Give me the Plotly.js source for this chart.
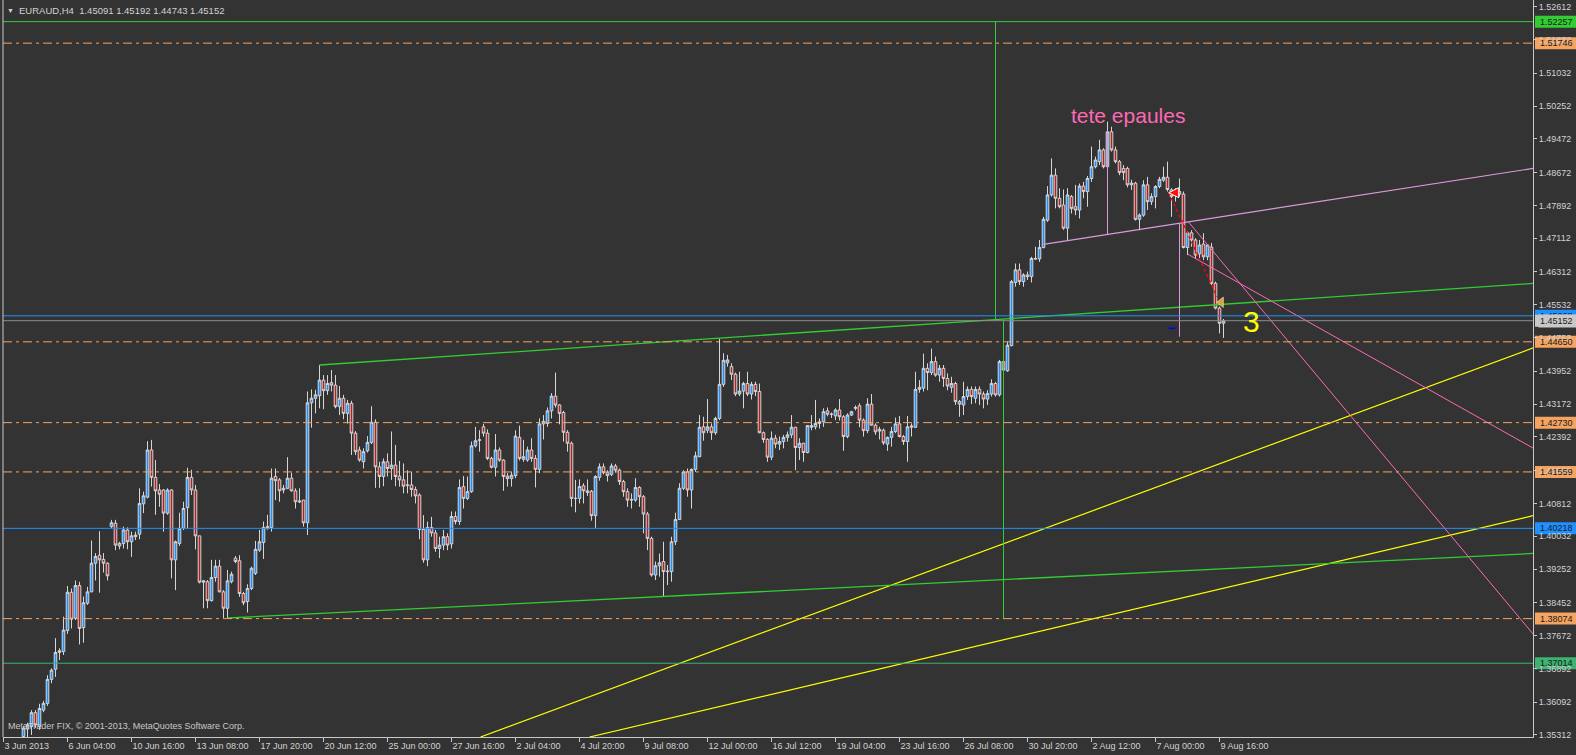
<!DOCTYPE html>
<html>
<head>
<meta charset="utf-8">
<script src="https://cdn.plot.ly/plotly-3.0.1.min.js"></script>
<style>
html,body{margin:0;padding:0;background:#333333;overflow:hidden}
#chart{width:1576px;height:755px}
</style>
</head>
<body>
<div id="chart"></div>
<script>
// ---------------- DATA (EURAUD, H4) ----------------
const firstBar = 5; // index of first visible bar (bar 0 = 3 Jun 2013)
const barOpen = [
1.3527,1.3545,1.3551,1.3584,1.3551,1.3590,1.3606,1.3663,1.3687,1.3727,
1.3729,1.3779,1.3870,1.3808,1.3886,1.3786,1.3844,1.3871,1.3939,1.3958,
1.3948,1.3939,1.4026,1.4034,1.3986,1.3986,1.4018,1.3990,1.4002,1.4008,
1.4080,1.4096,1.4208,1.4143,1.4113,1.4113,1.4058,1.4113,1.3947,1.3986,
1.4022,1.4071,1.4143,1.4113,1.4004,1.3894,1.3895,1.3850,1.3905,1.3932,
1.3871,1.3832,1.3895,1.3951,1.3945,1.3867,1.3848,1.3879,1.3915,1.3970,
1.3988,1.4021,1.4024,1.4145,1.4137,1.4113,1.4117,1.4141,1.4111,1.4087,
1.4089,1.4035,1.4320,1.4331,1.4337,1.4374,1.4349,1.4368,1.4362,1.4311,
1.4331,1.4295,1.4319,1.4248,1.4208,1.4180,1.4206,1.4226,1.4274,1.4168,
1.4145,1.4180,1.4164,1.4172,1.4146,1.4137,1.4125,1.4125,1.4114,1.4101,
1.4019,1.3947,1.4024,1.4011,1.3974,1.3982,1.4002,1.3985,1.4050,1.4038,
1.4121,1.4093,1.4109,1.4218,1.4231,1.4263,1.4248,1.4188,1.4167,1.4208,
1.4184,1.4146,1.4140,1.4147,1.4238,1.4186,1.4184,1.4208,1.4188,1.4162,
1.4270,1.4271,1.4301,1.4336,1.4315,1.4297,1.4250,1.4224,1.4093,1.4093,
1.4123,1.4111,1.4110,1.4052,1.4143,1.4168,1.4154,1.4150,1.4170,1.4160,
1.4133,1.4109,1.4089,1.4089,1.4119,1.4097,1.4056,1.3998,1.3911,1.3933,
1.3943,1.3919,1.3919,1.3990,1.4043,1.4117,1.4156,1.4113,1.4162,1.4192,
1.4263,1.4255,1.4263,1.4249,1.4283,1.4364,1.4415,1.4406,1.4388,1.4341,
1.4348,1.4366,1.4341,1.4364,1.4347,1.4249,1.4233,1.4191,1.4236,1.4222,
1.4228,1.4238,1.4244,1.4262,1.4214,1.4224,1.4202,1.4262,1.4263,1.4271,
1.4275,1.4301,1.4293,1.4289,1.4303,1.4287,1.4240,1.4291,1.4307,1.4313,
1.4279,1.4254,1.4317,1.4267,1.4253,1.4255,1.4222,1.4238,1.4252,1.4270,
1.4240,1.4228,1.4262,1.4262,1.4352,1.4355,1.4402,1.4392,1.4418,1.4386,
1.4402,1.4378,1.4357,1.4366,1.4323,1.4315,1.4335,1.4352,1.4331,1.4352,
1.4341,1.4329,1.4341,1.4366,1.4339,1.4418,1.4396,1.4456,1.4606,1.4636,
1.4608,1.4624,1.4620,1.4663,1.4662,1.4689,1.4754,1.4814,1.4861,1.4806,
1.4790,1.4735,1.4810,1.4786,1.4778,1.4835,1.4822,1.4853,1.4881,1.4893,
1.4921,1.4881,1.4964,1.4921,1.4893,1.4877,1.4877,1.4838,1.4842,1.4756,
1.4766,1.4838,1.4798,1.4810,1.4834,1.4849,1.4856,1.4826,1.4820,1.4822,
1.4816,1.4689,1.4724,1.4707,1.4674,1.4697,1.4667,1.4690,1.4604,1.4545,
1.45091];
const barHigh = [
1.3552,1.3560,1.3590,1.3590,1.3605,1.3612,1.3673,1.3689,1.3761,1.3737,
1.3812,1.3885,1.3879,1.3898,1.3895,1.3860,1.3883,1.3993,1.3963,1.4015,
1.3963,1.3941,1.4042,1.4042,1.3990,1.4026,1.4024,1.4014,1.4014,1.4117,
1.4109,1.4229,1.4232,1.4184,1.4127,1.4115,1.4117,1.4115,1.3993,1.4059,
1.4085,1.4166,1.4161,1.4125,1.4004,1.3899,1.3899,1.3947,1.3947,1.3947,
1.3875,1.3923,1.3919,1.3956,1.3958,1.3871,1.3889,1.3931,1.3992,1.4018,
1.4038,1.4054,1.4164,1.4164,1.4141,1.4125,1.4191,1.4154,1.4117,1.4117,
1.4089,1.4347,1.4352,1.4351,1.4410,1.4386,1.4386,1.4398,1.4386,1.4360,
1.4339,1.4327,1.4325,1.4253,1.4216,1.4212,1.4241,1.4312,1.4281,1.4180,
1.4188,1.4200,1.4252,1.4220,1.4182,1.4176,1.4160,1.4156,1.4121,1.4105,
1.4053,1.4038,1.4049,1.4018,1.4002,1.4018,1.4010,1.4062,1.4062,1.4138,
1.4146,1.4145,1.4228,1.4263,1.4255,1.4270,1.4257,1.4192,1.4246,1.4214,
1.4186,1.4153,1.4156,1.4255,1.4266,1.4232,1.4216,1.4236,1.4196,1.4283,
1.4291,1.4309,1.4343,1.4392,1.4317,1.4301,1.4255,1.4228,1.4137,1.4138,
1.4129,1.4138,1.4113,1.4148,1.4176,1.4176,1.4160,1.4176,1.4175,1.4164,
1.4137,1.4117,1.4105,1.4141,1.4122,1.4101,1.4061,1.4002,1.3943,1.3962,
1.3990,1.3935,1.4002,1.4059,1.4129,1.4160,1.4164,1.4164,1.4204,1.4291,
1.4287,1.4329,1.4271,1.4287,1.4473,1.4438,1.4434,1.4414,1.4392,1.4394,
1.4370,1.4394,1.4370,1.4370,1.4366,1.4252,1.4236,1.4252,1.4244,1.4240,
1.4244,1.4252,1.4291,1.4263,1.4236,1.4225,1.4267,1.4291,1.4327,1.4283,
1.4307,1.4309,1.4297,1.4307,1.4329,1.4291,1.4295,1.4301,1.4314,1.4319,
1.4283,1.4331,1.4341,1.4271,1.4263,1.4259,1.4240,1.4263,1.4285,1.4289,
1.4244,1.4289,1.4271,1.4394,1.4374,1.4437,1.4414,1.4449,1.4430,1.4410,
1.4410,1.4390,1.4382,1.4370,1.4327,1.4370,1.4359,1.4359,1.4359,1.4359,
1.4347,1.4350,1.4376,1.4370,1.4422,1.4422,1.4465,1.4612,1.4651,1.4651,
1.4628,1.4632,1.4667,1.4691,1.4707,1.4762,1.4835,1.4901,1.4877,1.4830,
1.4827,1.4830,1.4814,1.4838,1.4841,1.4845,1.4859,1.4929,1.4905,1.4945,
1.4925,1.4988,1.4976,1.4929,1.4897,1.4885,1.4881,1.4850,1.4845,1.4770,
1.4849,1.4857,1.4818,1.4837,1.4857,1.4881,1.4893,1.4830,1.4830,1.4853,
1.4822,1.4727,1.4730,1.4711,1.4707,1.4723,1.4697,1.4700,1.4608,1.4549,
1.45192];
const barLow = [
1.3500,1.3520,1.3531,1.3548,1.3543,1.3585,1.3600,1.3654,1.3669,1.3709,
1.3721,1.3771,1.3784,1.3804,1.3746,1.3750,1.3840,1.3870,1.3898,1.3869,
1.3917,1.3898,1.4022,1.3970,1.3972,1.3974,1.3972,1.3954,1.3994,1.3996,
1.4058,1.4093,1.4121,1.4054,1.4073,1.4014,1.4054,1.3903,1.3875,1.3980,
1.4018,1.4022,1.4101,1.3972,1.3891,1.3832,1.3832,1.3848,1.3895,1.3870,
1.3809,1.3809,1.3891,1.3939,1.3859,1.3839,1.3822,1.3875,1.3911,1.3966,
1.3949,1.4019,1.4014,1.4089,1.4085,1.4105,1.4115,1.4109,1.4069,1.4082,
1.4026,1.4006,1.4261,1.4295,1.4307,1.4305,1.4339,1.4347,1.4307,1.4291,
1.4281,1.4271,1.4196,1.4196,1.4180,1.4164,1.4202,1.4222,1.4118,1.4118,
1.4122,1.4145,1.4137,1.4122,1.4121,1.4105,1.4105,1.4097,1.4081,1.3996,
1.3940,1.3932,1.4002,1.3966,1.3951,1.3970,1.3970,1.3974,1.4031,1.4030,
1.4069,1.4089,1.4106,1.4214,1.4204,1.4240,1.4184,1.4164,1.4145,1.4180,
1.4111,1.4121,1.4121,1.4141,1.4183,1.4180,1.4180,1.4180,1.4119,1.4153,
1.4233,1.4263,1.4283,1.4309,1.4269,1.4228,1.4204,1.4073,1.4060,1.4081,
1.4081,1.4099,1.4040,1.4023,1.4135,1.4150,1.4133,1.4146,1.4154,1.4125,
1.4097,1.4073,1.4069,1.4085,1.4073,1.4010,1.3970,1.3907,1.3899,1.3907,
1.3859,1.3887,1.3895,1.3982,1.4042,1.4113,1.4097,1.4069,1.4156,1.4191,
1.4230,1.4248,1.4232,1.4244,1.4279,1.4358,1.4406,1.4374,1.4336,1.4336,
1.4307,1.4336,1.4328,1.4336,1.4248,1.4225,1.4180,1.4184,1.4212,1.4208,
1.4212,1.4228,1.4236,1.4160,1.4184,1.4180,1.4200,1.4255,1.4257,1.4259,
1.4263,1.4288,1.4284,1.4279,1.4278,1.4206,1.4236,1.4289,1.4302,1.4262,
1.4240,1.4248,1.4266,1.4244,1.4233,1.4220,1.4206,1.4216,1.4248,1.4238,
1.4220,1.4180,1.4240,1.4260,1.4344,1.4347,1.4350,1.4386,1.4382,1.4370,
1.4358,1.4350,1.4344,1.4315,1.4287,1.4291,1.4327,1.4317,1.4319,1.4315,
1.4307,1.4315,1.4335,1.4335,1.4335,1.4394,1.4394,1.4454,1.4596,1.4600,
1.4596,1.4612,1.4606,1.4660,1.4655,1.4687,1.4750,1.4810,1.4782,1.4782,
1.4731,1.4707,1.4770,1.4766,1.4758,1.4806,1.4786,1.4845,1.4877,1.4885,
1.4877,1.4877,1.4917,1.4889,1.4861,1.4849,1.4832,1.4826,1.4753,1.4730,
1.4762,1.4778,1.4790,1.4782,1.4830,1.4845,1.4822,1.4762,1.4798,1.4810,
1.4687,1.4671,1.4691,1.4663,1.4663,1.4659,1.4659,1.4600,1.4542,1.4485,
1.44743];
const barClose = [
1.3547,1.3555,1.3584,1.3555,1.3594,1.3606,1.3663,1.3685,1.3727,1.3731,
1.3780,1.3870,1.3806,1.3886,1.3784,1.3845,1.3871,1.3939,1.3955,1.3947,
1.3939,1.3909,1.4035,1.3982,1.3980,1.4018,1.3990,1.4004,1.4006,1.4081,
1.4099,1.4208,1.4143,1.4111,1.4103,1.4058,1.4113,1.3947,1.3990,1.4022,
1.4069,1.4143,1.4113,1.4004,1.3894,1.3897,1.3850,1.3905,1.3932,1.3871,
1.3832,1.3897,1.3913,1.3943,1.3867,1.3845,1.3879,1.3927,1.3972,1.3990,
1.4024,1.4026,1.4141,1.4135,1.4111,1.4117,1.4141,1.4111,1.4085,1.4085,
1.4035,1.4320,1.4331,1.4339,1.4374,1.4349,1.4366,1.4362,1.4311,1.4331,
1.4295,1.4319,1.4248,1.4204,1.4184,1.4204,1.4226,1.4274,1.4168,1.4145,
1.4180,1.4164,1.4172,1.4145,1.4137,1.4122,1.4124,1.4114,1.4099,1.4019,
1.3947,1.4024,1.4011,1.3974,1.3982,1.4002,1.3982,1.4050,1.4038,1.4119,
1.4093,1.4109,1.4218,1.4230,1.4232,1.4248,1.4188,1.4167,1.4208,1.4184,
1.4145,1.4140,1.4148,1.4241,1.4188,1.4192,1.4208,1.4188,1.4162,1.4270,
1.4276,1.4301,1.4336,1.4315,1.4295,1.4250,1.4224,1.4093,1.4093,1.4121,
1.4111,1.4107,1.4052,1.4145,1.4168,1.4154,1.4147,1.4170,1.4160,1.4133,
1.4109,1.4089,1.4090,1.4119,1.4097,1.4056,1.3998,1.3911,1.3933,1.3940,
1.3919,1.3920,1.3990,1.4043,1.4117,1.4156,1.4113,1.4162,1.4194,1.4262,
1.4249,1.4263,1.4249,1.4283,1.4364,1.4421,1.4422,1.4388,1.4341,1.4348,
1.4366,1.4341,1.4364,1.4347,1.4249,1.4233,1.4191,1.4236,1.4222,1.4228,
1.4238,1.4244,1.4262,1.4214,1.4224,1.4202,1.4266,1.4266,1.4271,1.4275,
1.4299,1.4293,1.4293,1.4303,1.4287,1.4240,1.4291,1.4299,1.4309,1.4279,
1.4254,1.4317,1.4267,1.4251,1.4257,1.4225,1.4238,1.4252,1.4270,1.4240,
1.4228,1.4263,1.4265,1.4352,1.4357,1.4402,1.4392,1.4418,1.4386,1.4402,
1.4378,1.4360,1.4366,1.4323,1.4317,1.4335,1.4352,1.4335,1.4352,1.4341,
1.4329,1.4342,1.4366,1.4339,1.4418,1.4398,1.4457,1.4608,1.4636,1.4608,
1.4624,1.4620,1.4663,1.4662,1.4689,1.4756,1.4814,1.4861,1.4806,1.4786,
1.4735,1.4814,1.4782,1.4778,1.4835,1.4822,1.4853,1.4881,1.4897,1.4921,
1.4881,1.4964,1.4921,1.4893,1.4867,1.4867,1.4838,1.4842,1.4756,1.4766,
1.4838,1.4798,1.4810,1.4834,1.4851,1.4856,1.4827,1.4810,1.4822,1.4816,
1.4689,1.4724,1.4707,1.4671,1.4695,1.4667,1.4695,1.4604,1.4545,1.4509,
1.45152];

// time axis labels (every 16 bars)
const timeTickBars = [0,16,32,48,64,80,96,112,128,144,160,176,192,208,224,240,256,272,288,304];
const timeTickText = ['3 Jun 2013','6 Jun 04:00','10 Jun 16:00','13 Jun 08:00','17 Jun 20:00','20 Jun 12:00',
  '25 Jun 00:00','27 Jun 16:00','2 Jul 04:00','4 Jul 20:00','9 Jul 08:00','12 Jul 00:00','16 Jul 12:00',
  '19 Jul 04:00','23 Jul 16:00','26 Jul 08:00','30 Jul 20:00','2 Aug 12:00','7 Aug 00:00','9 Aug 16:00'];
// price axis labels
const priceTicks = [1.52612,1.51832,1.51032,1.50252,1.49472,1.48672,1.47892,1.47112,1.46312,1.45532,
  1.44753,1.43952,1.43172,1.42392,1.41592,1.40812,1.40032,1.39252,1.38452,1.37672,1.36892,1.36092,1.35312];

// horizontal levels
const greenLevels = [1.52257];
const orangeLevels = [1.51746, 1.44650, 1.42730, 1.41559, 1.38074];
const blueLevels = [1.45268, 1.40218];
const seaGreenLevels = [1.37014];
const bidPrice = 1.45152;

// trend lines  (bar index, price)
const upperGreenBars = [79, 382.5],   upperGreenPrices = [1.44099, 1.46038];
const lowerGreenBars = [56, 382.5],   lowerGreenPrices = [1.38088, 1.39623];
const yellowABars = [119.25, 382.5],  yellowAPrices = [1.35261, 1.44508];
const yellowBBars = [146.5, 382.5],   yellowBPrices = [1.35261, 1.40523];
const necklineBars = [260, 382.5],    necklinePrices = [1.46967, 1.48772];
const pinkSteepBars = [296.25, 382.5], pinkSteepPrices = [1.47497, 1.37696];
const pinkSlowBars = [296, 382.5],    pinkSlowPrices = [1.46736, 1.42120];
const vGreenABars = [248, 248],       vGreenAPrices = [1.52257, 1.45160];
const vGreenBBars = [250, 250],       vGreenBPrices = [1.45160, 1.38074];
const headBars = [276, 276],          headPrices = [1.49682, 1.47188];
const shoulderBars = [294, 294],      shoulderPrices = [1.47466, 1.44771];
const arrowBars = [291.3, 303.4],     arrowPrices = [1.48193, 1.45722];
const blueDashBars = [291.25, 293],   blueDashPrices = [1.44971, 1.44971];
const triangleBar = [304.4],          trianglePrice = [1.45589];

const titleText = 'EURAUD,H4\u00a0\u00a01.45091 1.45192 1.44743 1.45152';
const copyrightText = 'MetaTrader FIX, \u00a9 2001-2013, MetaQuotes Software Corp.';
const patternLabel = 'tete epaules';
const patternLabelBar = 281, patternLabelPrice = 1.50039;
const waveLabel = '3';
const waveLabelBar = 312, waveLabelPrice = 1.45144;

// ---------------- LAYOUT CONSTANTS ----------------
const W = 1576, H = 755;
const plotL = 3, plotR = 1533, plotT = 0, plotB = 737;
const yMin = 1.352611, yMax = 1.527712;
const xMin = -0.125, xMax = 382.375;
const FONT = 'Liberation Sans, Arial, sans-serif';
const FG = '#d2d2d2';
const BG = '#333333';
function pxX(px){ return (px - plotL) / (plotR - plotL); }
function pxY(py){ return (plotB - py) / (plotB - plotT); }
function paperOfPrice(p){ return (p - yMin) / (yMax - yMin); }

const barIndex = barOpen.map((_, k) => firstBar + k);

const traces = [];
traces.push({
  type: 'candlestick', x: barIndex, open: barOpen, high: barHigh, low: barLow, close: barClose,
  increasing: { line: { color: '#d6d6d6', width: 1 }, fillcolor: '#1e90ff' },
  decreasing: { line: { color: '#d6d6d6', width: 1 }, fillcolor: '#b22222' },
  whiskerwidth: 0, hoverinfo: 'skip', showlegend: false
});
function lineTrace(xs, ys, color, width, dash){
  return { type: 'scatter', mode: 'lines', x: xs, y: ys, line: { color: color, width: width, dash: dash || 'solid' },
    hoverinfo: 'skip', showlegend: false };
}
traces.push(lineTrace(yellowABars, yellowAPrices, '#ffff00', 1.2));
traces.push(lineTrace(yellowBBars, yellowBPrices, '#ffff00', 1.2));
traces.push(lineTrace(upperGreenBars, upperGreenPrices, '#32cd32', 1.3));
traces.push(lineTrace(lowerGreenBars, lowerGreenPrices, '#32cd32', 1.3));
traces.push(lineTrace(vGreenABars, vGreenAPrices, '#32cd32', 1));
traces.push(lineTrace(vGreenBBars, vGreenBPrices, '#32cd32', 1));
traces.push(lineTrace(necklineBars, necklinePrices, '#dd99dd', 1.2));
traces.push(lineTrace(headBars, headPrices, '#dd99dd', 1));
traces.push(lineTrace(shoulderBars, shoulderPrices, '#dd99dd', 1));
traces.push(lineTrace(pinkSteepBars, pinkSteepPrices, '#ff69b4', 1));
traces.push(lineTrace(pinkSlowBars, pinkSlowPrices, '#ff69b4', 1));
traces.push(lineTrace(arrowBars, arrowPrices, '#ff0000', 1.5, 'dot'));
traces.push(lineTrace(blueDashBars, blueDashPrices, '#0000ff', 1.5));
traces.push({ type: 'scatter', mode: 'markers', x: [arrowBars[0]], y: [arrowPrices[0]],
  marker: { symbol: 'arrow-left', size: 10, color: '#ff1010', line: { color: '#ffffff', width: 1 } },
  hoverinfo: 'skip', showlegend: false });
traces.push({ type: 'scatter', mode: 'markers', x: triangleBar, y: trianglePrice,
  marker: { symbol: 'triangle-left', size: 9, color: '#daa520', line: { color: '#ffffff', width: 0.5 } },
  hoverinfo: 'skip', showlegend: false });

// ---- shapes: level lines, frame, price boxes ----
const shapes = [];
function levelShape(p, color, dash){
  return { type: 'line', xref: 'x', yref: 'y', x0: xMin, x1: xMax, y0: p, y1: p, layer: 'above',
    line: { color: color, width: 1, dash: dash } };
}
const DASHDOT = '9px,4px,3px,4px';
greenLevels.forEach(p => shapes.push(levelShape(p, '#32cd32', 'solid')));
orangeLevels.forEach(p => shapes.push(levelShape(p, '#f4a460', DASHDOT)));
blueLevels.forEach(p => shapes.push(levelShape(p, '#1e90ff', 'solid')));
seaGreenLevels.forEach(p => shapes.push(levelShape(p, '#3cb371', 'solid')));
shapes.push(levelShape(bidPrice, '#8c8c8c', 'solid'));
// left frame line
shapes.push({ type: 'line', xref: 'paper', yref: 'paper', x0: 0, x1: 0, y0: 0, y1: 1, line: { color: '#c8c8c8', width: 1 } });

const annotations = [];
const boxH = 6 / (plotB - plotT);
function priceBox(p, fill, withBg){
  shapes.push({ type: 'rect', xref: 'paper', yref: 'paper', layer: 'below',
    x0: pxX(1535), x1: pxX(1576), y0: paperOfPrice(p) - boxH, y1: paperOfPrice(p) + boxH,
    fillcolor: fill, line: { width: 0 } });
  const a = { xref: 'paper', yref: 'paper', x: pxX(1538), y: paperOfPrice(p), xanchor: 'left', yanchor: 'middle',
    text: p.toFixed(5), showarrow: false, font: { family: FONT, size: 9, color: '#1a1a1a' } };
  if (withBg) { a.bgcolor = fill; a.borderpad = 1; a.width = 38; a.align = 'left'; }
  annotations.push(a);
}
greenLevels.forEach(p => priceBox(p, '#32cd32'));
orangeLevels.forEach(p => priceBox(p, '#f4a460'));
blueLevels.forEach(p => priceBox(p, '#1e90ff'));
seaGreenLevels.forEach(p => priceBox(p, '#3cb371'));
priceBox(bidPrice, '#c8c8c8', true);

// texts
annotations.push({ xref: 'paper', yref: 'paper', x: pxX(10), y: pxY(10), xanchor: 'center', yanchor: 'middle',
  text: '\u25bc', showarrow: false, font: { family: FONT, size: 7, color: FG } });
annotations.push({ xref: 'paper', yref: 'paper', x: pxX(17), y: pxY(10), xanchor: 'left', yanchor: 'middle',
  text: titleText, showarrow: false, font: { family: FONT, size: 9.5, color: FG } });
annotations.push({ xref: 'paper', yref: 'paper', x: pxX(6), y: pxY(726), xanchor: 'left', yanchor: 'middle',
  text: copyrightText, showarrow: false, font: { family: FONT, size: 9, color: '#c8c8c8' } });
annotations.push({ xref: 'x', yref: 'y', x: patternLabelBar, y: patternLabelPrice, xanchor: 'center', yanchor: 'middle',
  text: patternLabel, showarrow: false, font: { family: FONT, size: 21, color: '#ff69b4' } });
annotations.push({ xref: 'x', yref: 'y', x: waveLabelBar, y: waveLabelPrice, xanchor: 'center', yanchor: 'middle',
  text: waveLabel, showarrow: false, font: { family: FONT, size: 30, color: '#ffff00' } });

const layout = {
  width: W, height: H,
  margin: { l: plotL, r: W - plotR, t: plotT, b: H - plotB, pad: 0 },
  paper_bgcolor: BG, plot_bgcolor: BG,
  showlegend: false,
  boxgap: 0.35, boxgroupgap: 0,
  xaxis: {
    range: [xMin, xMax], type: 'linear', rangeslider: { visible: false },
    showgrid: false, zeroline: false,
    tickmode: 'array', tickvals: timeTickBars, ticktext: timeTickText,
    ticks: 'outside', ticklen: 4, tickwidth: 1, tickcolor: '#c8c8c8',
    ticklabelposition: 'outside right',
    tickfont: { family: FONT, size: 9, color: FG },
    showline: true, linecolor: '#c8c8c8', linewidth: 1, fixedrange: true
  },
  yaxis: {
    range: [yMin, yMax], side: 'right',
    showgrid: false, zeroline: false,
    tickmode: 'array', tickvals: priceTicks, ticktext: priceTicks.map(v => v.toFixed(5)),
    ticks: 'outside', ticklen: 3, tickwidth: 1, tickcolor: '#c8c8c8',
    tickfont: { family: FONT, size: 9, color: FG },
    showline: true, linecolor: '#c8c8c8', linewidth: 1, fixedrange: true
  },
  shapes: shapes,
  annotations: annotations
};

Plotly.newPlot('chart', traces, layout, { staticPlot: true, displayModeBar: false });
</script>
</body>
</html>
